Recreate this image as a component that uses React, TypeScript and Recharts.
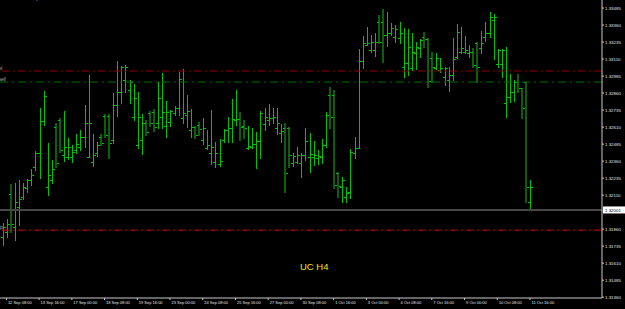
import { ComposedChart, Bar, XAxis, YAxis, ReferenceLine } from 'recharts'

// H4 bars (price)
const opens = [
  1.31805, 1.31841, 1.32116, 1.31878, 1.32025, 1.32099, 1.3216, 1.32221, 1.32319, 1.32417,
  1.32655, 1.32172, 1.32221, 1.32608, 1.32662, 1.32405, 1.32393, 1.32393, 1.32442, 1.32466,
  1.3254, 1.32393, 1.32356, 1.32417, 1.3254, 1.32691, 1.32691, 1.32515, 1.3277, 1.3287,
  1.32956, 1.32883, 1.32687, 1.32478, 1.32515, 1.32638, 1.32711, 1.32723, 1.32638, 1.32687,
  1.32618, 1.3265, 1.32716, 1.32748, 1.32674, 1.32699, 1.32589, 1.32608, 1.32625, 1.32515,
  1.32454, 1.32417, 1.32356, 1.32339, 1.32515, 1.32589, 1.32601, 1.3266, 1.32669, 1.32618,
  1.32454, 1.32466, 1.32483, 1.32508, 1.3263, 1.32662, 1.32674, 1.32601, 1.32564, 1.32601,
  1.32601, 1.32344, 1.32356, 1.32344, 1.32405, 1.32393, 1.32393, 1.3238, 1.32393, 1.32478,
  1.32846, 1.32846, 1.3227, 1.32172, 1.32099, 1.32135, 1.32417, 1.32459, 1.33096, 1.33216,
  1.33177, 1.33177, 1.33385, 1.33385, 1.33287, 1.33299, 1.33275, 1.33262, 1.33054, 1.33079,
  1.33042, 1.33152, 1.33189, 1.33275, 1.33255, 1.33115, 1.33042, 1.3303, 1.3298, 1.32956,
  1.32993, 1.33127, 1.33164, 1.33164, 1.33152, 1.33164, 1.33226, 1.33189, 1.33275, 1.33299,
  1.33397, 1.33074, 1.33074, 1.3279, 1.32834, 1.3287, 1.32944, 1.32895, 1.32939, 1.32062,
]
const highs = [
  1.31907, 1.31934, 1.32189, 1.32197, 1.32221, 1.32201, 1.32226, 1.32299, 1.32434, 1.32748,
  1.32875, 1.32495, 1.32368, 1.32638, 1.32679, 1.32728, 1.32532, 1.32478, 1.32559, 1.32589,
  1.32772, 1.32993, 1.32557, 1.32503, 1.32557, 1.32704, 1.32706, 1.32863, 1.33096, 1.33059,
  1.33066, 1.32956, 1.32927, 1.3287, 1.32704, 1.32662, 1.32728, 1.3274, 1.32944, 1.33005,
  1.32802, 1.32736, 1.32767, 1.33017, 1.33037, 1.32846, 1.3274, 1.32618, 1.32647, 1.32674,
  1.32589, 1.32736, 1.32498, 1.32522, 1.32593, 1.32682, 1.32814, 1.32883, 1.32718, 1.32662,
  1.32618, 1.32601, 1.32571, 1.32728, 1.32753, 1.3278, 1.32748, 1.32748, 1.3263, 1.32642,
  1.32613, 1.32417, 1.32466, 1.32417, 1.32601, 1.32569, 1.3251, 1.32442, 1.32522, 1.32723,
  1.32902, 1.32883, 1.32282, 1.32241, 1.32172, 1.32449, 1.3254, 1.33181, 1.33279, 1.33343,
  1.33287, 1.33304, 1.33434, 1.33475, 1.33453, 1.33377, 1.3336, 1.33385, 1.33336, 1.33331,
  1.33299, 1.33238, 1.33255, 1.33306, 1.33262, 1.33164, 1.33157, 1.33115, 1.33054, 1.33054,
  1.33262, 1.33368, 1.33348, 1.33279, 1.33213, 1.33189, 1.33238, 1.33316, 1.33385, 1.33453,
  1.33439, 1.33181, 1.33184, 1.33201, 1.33, 1.32956, 1.33, 1.329, 1.32944, 1.32221,
]
const lows = [
  1.31743, 1.31805, 1.31841, 1.3178, 1.3189, 1.32079, 1.32135, 1.32184, 1.32295, 1.32233,
  1.32625, 1.32111, 1.32197, 1.32319, 1.32429, 1.32363, 1.32373, 1.32356, 1.32422, 1.32442,
  1.32466, 1.32388, 1.32324, 1.32397, 1.32478, 1.3254, 1.3238, 1.32491, 1.32691, 1.32785,
  1.3287, 1.32785, 1.32662, 1.32454, 1.32412, 1.32552, 1.32618, 1.32584, 1.32601, 1.32601,
  1.32535, 1.32618, 1.32699, 1.32699, 1.32642, 1.32613, 1.32535, 1.32527, 1.32552, 1.32486,
  1.32446, 1.32339, 1.32314, 1.32326, 1.32503, 1.32503, 1.32503, 1.32625, 1.32515, 1.32527,
  1.32446, 1.32454, 1.32307, 1.3238, 1.32589, 1.32625, 1.32638, 1.32559, 1.32503, 1.32135,
  1.32319, 1.32324, 1.32344, 1.32241, 1.32368, 1.32282, 1.32331, 1.32339, 1.32344, 1.32466,
  1.32601, 1.3216, 1.32094, 1.32062, 1.32062, 1.32086, 1.3238, 1.32454, 1.33042, 1.33213,
  1.33164, 1.33132, 1.33226, 1.33091, 1.33208, 1.33287, 1.33238, 1.33226, 1.3298, 1.32993,
  1.3303, 1.33037, 1.33127, 1.33201, 1.32902, 1.32944, 1.33034, 1.33017, 1.32919, 1.32878,
  1.32956, 1.33115, 1.33152, 1.33157, 1.33123, 1.33054, 1.32944, 1.33152, 1.33245, 1.33275,
  1.3311, 1.33054, 1.3298, 1.32687, 1.32797, 1.32804, 1.3287, 1.32679, 1.32057, 1.32001,
]
const closes = [
  1.31878, 1.319, 1.319, 1.32057, 1.32079, 1.32172, 1.32221, 1.32258, 1.32417, 1.32655,
  1.32838, 1.32258, 1.323, 1.32344, 1.32442, 1.32466, 1.32466, 1.32429, 1.32483, 1.3254,
  1.32642, 1.32642, 1.32405, 1.32478, 1.32491, 1.32552, 1.32495, 1.3277, 1.3287, 1.33049,
  1.33049, 1.32944, 1.32821, 1.32687, 1.32638, 1.32576, 1.32638, 1.32613, 1.32821, 1.32723,
  1.32723, 1.32731, 1.32748, 1.32961, 1.32716, 1.32731, 1.32608, 1.32552, 1.32593, 1.32601,
  1.32478, 1.32466, 1.32422, 1.3236, 1.32589, 1.32601, 1.32667, 1.32669, 1.32608, 1.32601,
  1.3247, 1.32483, 1.32508, 1.32711, 1.32687, 1.32674, 1.32687, 1.3264, 1.32584, 1.3227,
  1.32405, 1.32397, 1.32405, 1.32405, 1.32508, 1.32412, 1.32405, 1.32397, 1.32478, 1.32699,
  1.32687, 1.32184, 1.32179, 1.32221, 1.32128, 1.32429, 1.32459, 1.33096, 1.33226, 1.33226,
  1.33238, 1.33238, 1.33238, 1.33287, 1.33299, 1.33336, 1.33328, 1.33299, 1.33079, 1.33201,
  1.33164, 1.33201, 1.3325, 1.33255, 1.32951, 1.33054, 1.33115, 1.33042, 1.33047, 1.32993,
  1.33108, 1.33306, 1.33189, 1.33177, 1.33164, 1.33066, 1.33054, 1.3323, 1.33299, 1.33417,
  1.33422, 1.33177, 1.33177, 1.32834, 1.3287, 1.32944, 1.32895, 1.32748, 1.32172, 1.32172,
]

const timeTicks = [1, 9, 17, 25, 33, 41, 49, 57, 65, 73, 81, 89, 97, 105, 113, 121, 129]
const timeLabels = [
  '12 Sep 08:00', '13 Sep 16:00', '17 Sep 00:00', '18 Sep 08:00', '19 Sep 16:00', '23 Sep 00:00',
  '24 Sep 08:00', '25 Sep 16:00', '27 Sep 00:00', '30 Sep 08:00', '1 Oct 16:00', '3 Oct 00:00',
  '4 Oct 08:00', '7 Oct 16:00', '9 Oct 00:00', '10 Oct 08:00', '11 Oct 16:00',
]
const priceTicks = [
  1.33485, 1.3336, 1.33235, 1.3311, 1.32985, 1.3286, 1.32735, 1.3261, 1.32485, 1.3236,
  1.32235, 1.3211, 1.3186, 1.31735, 1.3161, 1.31485, 1.3136,
]

const slLevel = 1.33022
const entryLevel = 1.32941
const tpLevel = 1.31853
const bidLevel = 1.32001

const BRIGHT = '#00c400'
const DARK = '#0a600a'
const AXIS = '#c8c8c8'
const TXT = '#e4e4e4'

const data = opens.map((o, i) => ({
  i,
  range: [lows[i], highs[i]],
  o,
  h: highs[i],
  l: lows[i],
  c: closes[i],
}))

function OhlcBar(props: any) {
  const { x, y, width, height, payload } = props
  const { o, h, l, c } = payload
  const cx = Math.round(x + width / 2)
  const top = Math.round(y)
  const bot = Math.round(y + height)
  // map a price inside the bar's own range onto the bar's pixels
  const py = (v: number) => Math.round(y + ((h - v) / (h - l)) * height)
  const up = c >= o
  return (
    <g shapeRendering="crispEdges">
      {up ? (
        <rect x={cx} y={top} width={1} height={bot - top + 1} fill={BRIGHT} />
      ) : (
        <rect x={cx - 1} y={top} width={2} height={bot - top + 1} fill={DARK} />
      )}
      <rect x={cx - 2} y={py(o)} width={2} height={1} fill={BRIGHT} />
      <rect x={cx + 1} y={py(c)} width={2} height={1} fill={BRIGHT} />
    </g>
  )
}

function TimeTick(props: any) {
  const { x, y, payload } = props
  const idx = timeTicks.indexOf(payload.value)
  return (
    <g>
      <line x1={x} x2={x} y1={y} y2={y + 2} stroke={AXIS} />
      <text x={x + 1.5} y={y + 6.3} fontSize={4} fill={TXT} fontFamily="Liberation Sans, Arial">
        {timeLabels[idx]}
      </text>
    </g>
  )
}

function PriceTick(props: any) {
  const { x, y, payload } = props
  return (
    <g>
      <line x1={x} x2={x + 2} y1={y} y2={y} stroke={AXIS} />
      <text x={x + 3} y={y + 1.6} fontSize={4.4} fill={TXT} fontFamily="Liberation Sans, Arial">
        {payload.value.toFixed(5)}
      </text>
    </g>
  )
}

const lineTag = (txt: string) => (p: any) => {
  const vb = p.viewBox
  return (
    <text x={vb.x - 1} y={vb.y - 1} fontSize={4.5} fill="#9fb0c0" fontFamily="Liberation Sans, Arial">
      {txt}
    </text>
  )
}

function BidBox(p: any) {
  const vb = p.viewBox
  const bx = vb.x + vb.width + 1
  return (
    <g>
      <rect x={bx} y={vb.y - 3.5} width={22} height={7} fill="#ffffff" />
      <text x={bx + 2} y={vb.y + 1.6} fontSize={4.4} fill="#000" fontFamily="Liberation Sans, Arial">
        {bidLevel.toFixed(5)}
      </text>
    </g>
  )
}

export default function App() {
  return (
    <div
      style={{
        position: 'absolute',
        left: 0,
        top: 0,
        width: 625,
        height: 309,
        background: '#000',
        overflow: 'hidden',
      }}
    >
      <div
        style={{
          position: 'absolute',
          left: 2,
          top: -7,
          fontSize: 8,
          color: '#c8c8c8',
          fontFamily: 'Liberation Sans, Arial',
          whiteSpace: 'nowrap',
        }}
      >
        GBPUSD,H4 1.32033 1.32050 1.31996 1.32001
      </div>
      <ComposedChart width={625} height={309} data={data} margin={{ top: 0, right: 0, bottom: 0, left: 0 }}>
        <XAxis
          dataKey="i"
          type="number"
          domain={[-0.56, 146.6]}
          allowDataOverflow
          ticks={timeTicks}
          interval={0}
          height={11}
          tickLine={false}
          tickSize={0}
          tickMargin={0}
          axisLine={{ stroke: AXIS }}
          tick={<TimeTick />}
        />
        <YAxis
          orientation="right"
          width={23}
          domain={[1.31354, 1.33544]}
          allowDataOverflow
          ticks={priceTicks}
          interval={0}
          tickLine={false}
          tickSize={0}
          tickMargin={0}
          axisLine={{ stroke: AXIS }}
          tick={<PriceTick />}
        />
        <ReferenceLine y={slLevel} stroke="#8c0000" strokeDasharray="8 3 2 3" label={lineTag('sl')} />
        <ReferenceLine y={entryLevel} stroke="#006e00" strokeDasharray="8 4 2 4" label={lineTag('sell')} />
        <ReferenceLine y={tpLevel} stroke="#d20000" strokeDasharray="8 3 2 3" label={lineTag('tp')} />
        <ReferenceLine y={bidLevel} stroke="#474747" strokeWidth={2} label={BidBox} />
        <Bar dataKey="range" barSize={3} shape={OhlcBar} isAnimationActive={false} />
      </ComposedChart>
      <div
        style={{
          position: 'absolute',
          left: 300,
          top: 261,
          fontSize: 9.5,
          color: '#f2e40c',
          fontFamily: 'Liberation Sans, Arial',
        }}
      >
        UC H4
      </div>
    </div>
  )
}
